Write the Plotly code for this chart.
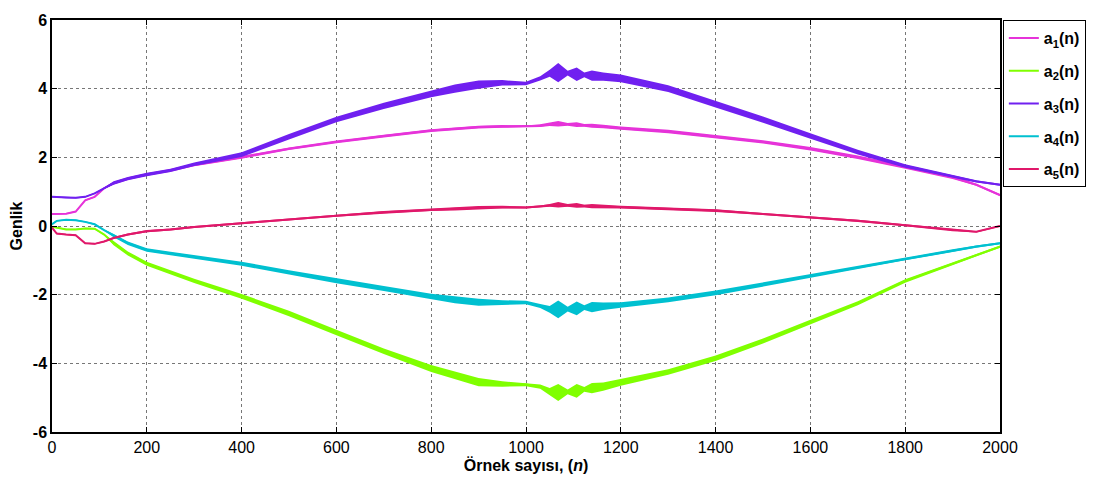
import numpy as np
import plotly.graph_objects as go

# sample positions (n)
N = [0, 10, 30, 50, 70, 90, 110, 130, 160, 200, 250, 300, 400, 500, 600, 700, 800, 850, 900, 950,
     1000, 1030, 1050, 1068, 1088, 1107, 1123, 1139, 1163,
     1200, 1300, 1400, 1500, 1600, 1700, 1800, 1900, 1950, 2000]

# centre values
a1 = [0.35, 0.35, 0.36, 0.42, 0.75, 0.85, 1.10, 1.25, 1.38, 1.50, 1.62, 1.78, 2.00, 2.25, 2.45, 2.62, 2.78, 2.83, 2.88, 2.90,
      2.90, 2.92, 2.96, 2.98, 2.96, 2.95, 2.93, 2.92, 2.90,
      2.85, 2.75, 2.60, 2.45, 2.25, 2.00, 1.72, 1.42, 1.20, 0.90]
a2 = [-0.02, -0.05, -0.10, -0.10, -0.07, -0.08, -0.25, -0.50, -0.80, -1.10, -1.35, -1.60, -2.05, -2.55, -3.10, -3.65, -4.15, -4.35, -4.55, -4.60,
      -4.62, -4.68, -4.82, -4.85, -4.83, -4.80, -4.76, -4.72, -4.68,
      -4.55, -4.25, -3.85, -3.35, -2.80, -2.25, -1.60, -1.10, -0.85, -0.60]
a3 = [0.85, 0.85, 0.83, 0.82, 0.85, 0.95, 1.10, 1.25, 1.38, 1.50, 1.62, 1.80, 2.08, 2.60, 3.10, 3.50, 3.85, 4.00, 4.12, 4.17,
      4.15, 4.30, 4.45, 4.47, 4.45, 4.42, 4.40, 4.38, 4.35,
      4.30, 4.00, 3.55, 3.10, 2.62, 2.15, 1.75, 1.45, 1.30, 1.20]
a4 = [0.05, 0.15, 0.18, 0.17, 0.12, 0.05, -0.12, -0.28, -0.50, -0.70, -0.80, -0.90, -1.10, -1.35, -1.60, -1.82, -2.05, -2.15, -2.22, -2.23,
      -2.23, -2.33, -2.43, -2.43, -2.42, -2.40, -2.38, -2.36, -2.34,
      -2.30, -2.15, -1.95, -1.70, -1.45, -1.20, -0.95, -0.72, -0.60, -0.50]
a5 = [-0.05, -0.22, -0.25, -0.27, -0.50, -0.52, -0.45, -0.35, -0.25, -0.15, -0.10, -0.03, 0.08, 0.20, 0.30, 0.40, 0.48, 0.50, 0.53, 0.55,
      0.54, 0.57, 0.60, 0.62, 0.60, 0.60, 0.58, 0.58, 0.57,
      0.55, 0.50, 0.45, 0.35, 0.25, 0.15, 0.02, -0.12, -0.17, 0.00]

# half-width of the oscillation band
w1 = [0.02]*7 + [0.04]*13 + [0.03, 0.04, 0.05, 0.08, 0.04, 0.07, 0.04, 0.06, 0.05] + [0.05]*8 + [0.03, 0.03]
w2 = [0.02]*7 + [0.06]*5 + [0.07, 0.08, 0.08, 0.08, 0.10, 0.12, 0.12, 0.08] + \
     [0.05, 0.06, 0.10, 0.25, 0.07, 0.20, 0.07, 0.15, 0.12] + \
     [0.10, 0.08, 0.08, 0.07, 0.07, 0.06, 0.05, 0.04, 0.03, 0.03]
w3 = [0.02]*7 + [0.05]*5 + [0.07, 0.08, 0.08, 0.09, 0.10, 0.12, 0.12, 0.08] + \
     [0.05, 0.06, 0.10, 0.28, 0.07, 0.20, 0.07, 0.15, 0.12] + \
     [0.11, 0.10, 0.10, 0.09, 0.08, 0.07, 0.05, 0.04, 0.03, 0.03]
w4 = [0.02]*7 + [0.05]*5 + [0.06, 0.06, 0.07, 0.07, 0.08, 0.10, 0.10, 0.07] + \
     [0.05, 0.06, 0.10, 0.26, 0.07, 0.20, 0.07, 0.15, 0.11] + \
     [0.08, 0.07, 0.07, 0.06, 0.06, 0.05, 0.05, 0.04, 0.03, 0.03]
w5 = [0.02]*7 + [0.03]*5 + [0.03, 0.03, 0.03, 0.04, 0.04, 0.05, 0.05, 0.04] + \
     [0.03, 0.03, 0.04, 0.08, 0.04, 0.07, 0.04, 0.06, 0.05] + \
     [0.04, 0.04, 0.04, 0.03, 0.03, 0.03, 0.03, 0.03, 0.02, 0.02]

names = ["a<sub>1</sub>(n)", "a<sub>2</sub>(n)", "a<sub>3</sub>(n)", "a<sub>4</sub>(n)", "a<sub>5</sub>(n)"]
colors = ["#E633D9", "#80FF00", "#7020F0", "#00C0D0", "#E0186A"]
series = [a1, a2, a3, a4, a5]
widths = [w1, w2, w3, w4, w5]

y_ticks = [-6, -4, -2, 0, 2, 4, 6]
y_tick_text = ["-6", "-4", "-2", "0", "2", "4", "6"]
x_ticks = [0, 200, 400, 600, 800, 1000, 1200, 1400, 1600, 1800, 2000]

fig = go.Figure()
for name, col, vals, w in zip(names, colors, series, widths):
    v = np.array(vals)
    h = np.array(w)
    fig.add_trace(go.Scatter(x=N, y=v + h, mode="lines", line=dict(width=0, color=col),
                             showlegend=False, hoverinfo="skip", legendgroup=name))
    fig.add_trace(go.Scatter(x=N, y=v - h, mode="lines", line=dict(width=0, color=col),
                             fill="tonexty", fillcolor=col, showlegend=False, hoverinfo="skip",
                             legendgroup=name))
    fig.add_trace(go.Scatter(x=N, y=v, mode="lines", name="<b>" + name + "</b>",
                             line=dict(width=2, color=col), legendgroup=name))

FONT = "Liberation Sans, Arial"
axis_font = dict(family=FONT, size=16, color="black")
fig.update_layout(
    width=1099, height=484,
    margin=dict(l=52, r=99, t=13, b=52),
    paper_bgcolor="white", plot_bgcolor="white",
    font=dict(family=FONT, size=16, color="black"),
    showlegend=True,
    legend=dict(x=1.003, y=1, xanchor="left", yanchor="top", bordercolor="black", borderwidth=1,
                bgcolor="white", font=dict(family=FONT, size=16, color="black"),
                tracegroupgap=9),
    xaxis=dict(range=[0, 2000], tickvals=x_ticks, ticks="inside", ticklen=5, tickcolor="black",
               showline=True, linecolor="black", linewidth=1.5, mirror="allticks",
               showgrid=True, gridcolor="#777777", griddash="dot", gridwidth=1, zeroline=False,
               tickfont=axis_font, tickprefix="<b>", ticksuffix="</b>",
               title=dict(text="<b>Örnek sayısı, (<i>n</i>)</b>", font=axis_font, standoff=2)),
    yaxis=dict(range=[-6, 6], tickvals=y_ticks, ticktext=["<b>" + t + "</b>" for t in y_tick_text],
               ticks="inside", ticklen=5,
               tickcolor="black", showline=True, linecolor="black", linewidth=1.5, mirror="allticks",
               showgrid=True, gridcolor="#777777", griddash="dot", gridwidth=1, zeroline=False,
               tickfont=axis_font,
               title=dict(text="<b>Genlik</b>", font=axis_font, standoff=6)),
)
fig.write_html("out.html")
